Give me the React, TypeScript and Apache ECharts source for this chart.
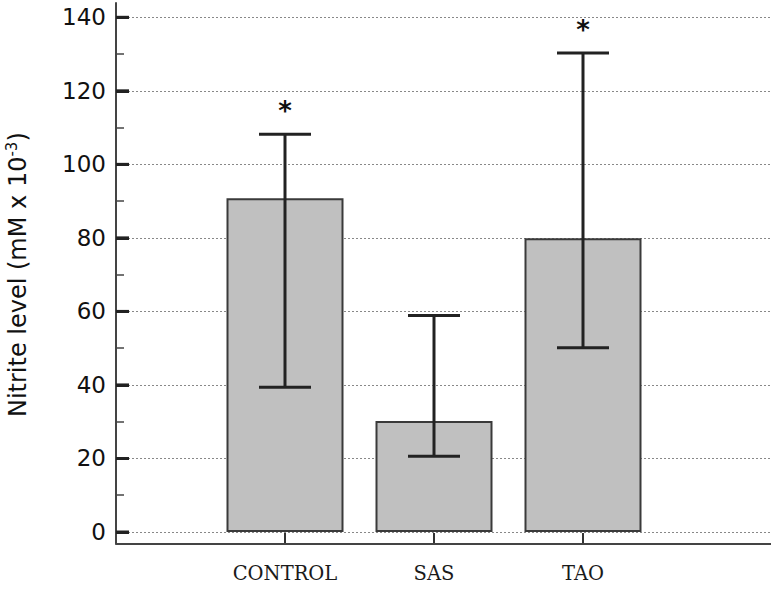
import React, { useEffect, useRef } from "react";
import * as echarts from "echarts";

const categories = ["CONTROL", "SAS", "TAO"];
const means = [90.8, 30.2, 79.9];
const upper = [108.2, 58.9, 130.3];
const lower = [39.4, 20.6, 50.1];
const marks = ["*", "", "*"];
const yMin = 0;
const yMax = 140;
const yStep = 20;
const majorTickValues = [0, 20, 40, 60, 80, 100, 120, 140];

export default function App() {
  const ref = useRef<HTMLDivElement>(null);
  useEffect(() => {
    if (!ref.current) return;
    const chart = echarts.init(ref.current, null, { renderer: "svg" });
    const plainLine = { color: "#444", width: 2 };
    chart.setOption({
      animation: false,
      backgroundColor: "#ffffff",
      grid: [
        { left: 116, right: 0, top: 3, bottom: 57.5, containLabel: false, outerBoundsMode: "none" },
        { left: 116, right: 0, top: 17.3, bottom: 69, containLabel: false, outerBoundsMode: "none" },
        { left: 210.5, right: 113.5, top: 17.3, bottom: 69, containLabel: false, outerBoundsMode: "none" },
      ],
      xAxis: [
        {
          gridIndex: 0,
          type: "value",
          min: 0,
          max: 1,
          axisLine: { show: true, onZero: false, lineStyle: plainLine },
          axisTick: { show: false },
          axisLabel: { show: false },
          splitLine: { show: false },
        },
        { gridIndex: 1, type: "value", min: 0, max: 1, show: false },
        {
          gridIndex: 2,
          type: "category",
          data: categories,
          offset: 11,
          axisLine: { show: false, onZero: false },
          axisTick: {
            show: true,
            inside: true,
            alignWithLabel: true,
            length: 10,
            lineStyle: { color: "#333", width: 2 },
          },
          axisLabel: { fontFamily: "DejaVu Serif", fontSize: 19.5, color: "#1a1a1a", margin: 20 },
          splitLine: { show: false },
        },
      ],
      yAxis: [
        {
          gridIndex: 0,
          type: "value",
          min: 0,
          max: 1,
          axisLine: { show: true, onZero: false, lineStyle: plainLine },
          axisTick: { show: false },
          axisLabel: { show: false },
          splitLine: { show: false },
        },
        {
          gridIndex: 1,
          type: "value",
          min: yMin,
          max: yMax,
          interval: yStep,
          name: "{n|Nitrite level (mM x 10}{sup|-3}{n|)}",
          nameLocation: "middle",
          nameGap: 84,
          nameTextStyle: {
            fontFamily: "DejaVu Sans",
            fontSize: 24,
            color: "#111",
            rich: {
              n: { fontFamily: "DejaVu Sans", fontSize: 24, color: "#111", lineHeight: 28 },
              sup: {
                fontFamily: "DejaVu Sans",
                fontSize: 15,
                color: "#111",
                lineHeight: 15,
                verticalAlign: "top",
                padding: [0, 0, 6, 0],
              },
            },
          },
          axisLine: { show: false },
          axisTick: {
            show: true,
            inside: true,
            length: 13,
            lineStyle: { color: "#222", width: 3 },
          },
          minorTick: {
            show: true,
            splitNumber: 2,
            length: 8,
            lineStyle: { color: "#444", width: 1.5 },
          },
          axisLabel: { fontFamily: "DejaVu Sans", fontSize: 23, color: "#111", margin: 10 },
          splitLine: { show: true, lineStyle: { color: "#888", type: [2, 2], width: 1 } },
          minorSplitLine: { show: false },
        },
        { gridIndex: 2, type: "value", min: yMin, max: yMax, interval: yStep, show: false },
      ],
      series: [
        {
          // major tick marks on the value axis
          type: "custom",
          xAxisIndex: 1,
          yAxisIndex: 1,
          z: 6,
          silent: true,
          data: majorTickValues.map((v) => [0, v]),
          renderItem: (params: any, api: any) => {
            const p = api.coord([api.value(0), api.value(1)]);
            return {
              type: "rect",
              shape: { x: p[0], y: p[1] - 1.5, width: 13, height: 3 },
              style: { fill: "#222" },
            };
          },
        },
        {
          type: "bar",
          xAxisIndex: 2,
          yAxisIndex: 2,
          barWidth: 117,
          data: means,
          itemStyle: { color: "#c0c0c0", borderColor: "#3a3a3a", borderWidth: 2 },
          z: 2,
        },
        {
          type: "custom",
          xAxisIndex: 2,
          yAxisIndex: 2,
          z: 5,
          encode: { x: 0, y: [1, 2] },
          data: categories.map((c, i) => [i, upper[i], lower[i], i]),
          renderItem: (params: any, api: any) => {
            const x = api.value(0);
            const hi = api.value(1);
            const lo = api.value(2);
            const idx = api.value(3);
            const top = api.coord([x, hi]);
            const bot = api.coord([x, lo]);
            const half = 26;
            const style = { stroke: "#222", lineWidth: 3 };
            const children: any[] = [
              { type: "line", shape: { x1: top[0], y1: top[1], x2: bot[0], y2: bot[1] }, style },
              { type: "line", shape: { x1: top[0] - half, y1: top[1], x2: top[0] + half, y2: top[1] }, style },
              { type: "line", shape: { x1: bot[0] - half, y1: bot[1], x2: bot[0] + half, y2: bot[1] }, style },
            ];
            const m = marks[idx];
            if (m) {
              children.push({
                type: "text",
                style: {
                  text: m,
                  x: top[0],
                  y: top[1] - 23,
                  align: "center",
                  verticalAlign: "middle",
                  fontFamily: "DejaVu Sans",
                  fontSize: 26,
                  fontWeight: "bold",
                  fill: "#111",
                },
              });
            }
            return { type: "group", children };
          },
        },
      ],
    });
    return () => chart.dispose();
  }, []);
  return (
    <div
      ref={ref}
      style={{ position: "fixed", left: 0, top: 0, width: 771, height: 601, background: "#fff" }}
    />
  );
}
